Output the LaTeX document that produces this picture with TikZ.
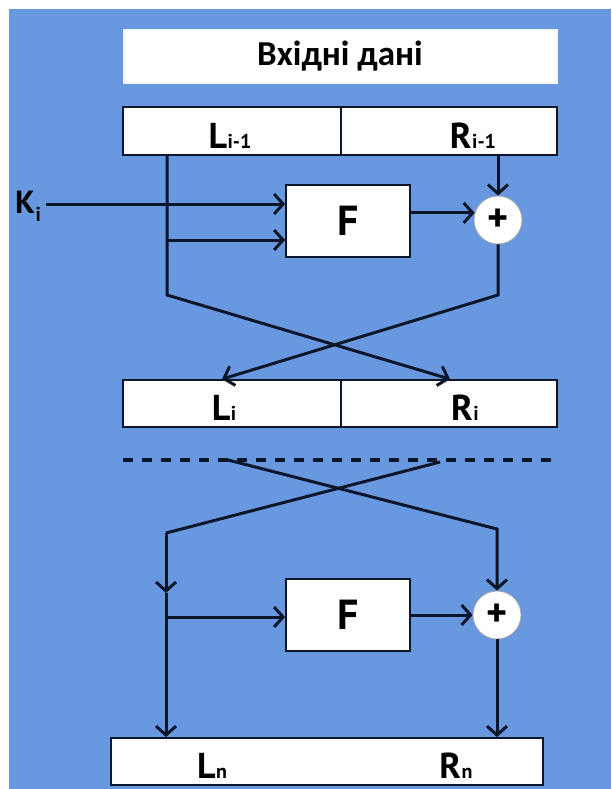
\documentclass[tikz,border=0pt]{standalone}
\usepackage{fontspec}
\setmainfont{PT Sans}
\newfontfamily\headfont{Carlito}
\usetikzlibrary{arrows.meta}
\definecolor{bg}{RGB}{104,153,224}
\definecolor{ink}{RGB}{12,22,42}
% subscript set next to a bold letter; optional argument lowers it
\newcommand\sbs[2][0pt]{\kern0.5pt\raisebox{-#1}{\fontsize{20}{20}\selectfont #2}}
\begin{document}
\begin{tikzpicture}[x=1pt,y=-1pt,
  wire/.style={draw=ink, line width=3pt},
  flow/.style={wire, -{Straight Barb[length=9pt,width=20pt]}},
  cell/.style={draw=ink, line width=1.8pt, fill=white, inner sep=0pt},
  hdr/.style={fill=white, draw=white!90!gray, line width=0.8pt, inner sep=0pt,
    font=\headfont\bfseries\fontsize{35}{35}\selectfont},
  func/.style={cell, minimum width=124pt, minimum height=72pt,
    font=\bfseries\fontsize{42}{42}\selectfont},
  xorop/.style={circle, fill=white, draw=gray!70, line width=0.8pt,
    minimum size=48pt, inner sep=0pt, font=\bfseries\fontsize{40}{40}\selectfont},
  lbl/.style={inner sep=0pt, anchor=base, font=\bfseries\fontsize{36}{36}\selectfont},
]
\useasboundingbox (0,0) rectangle (611,789);
\fill[white] (0,0) rectangle (611,789);
\fill[bg] (8.5,9) rectangle (611,789);

% input block
\node[hdr, minimum width=434pt, minimum height=54pt] (head) at (340,56) {Вхідні дані};

% round i input halves
\node[cell, minimum width=218pt, minimum height=48pt] (lprev) at (232,131) {};
\node[cell, minimum width=216pt, minimum height=48pt] (rprev) at (449,131) {};
\node[lbl] (tlprev) at (230,148) {L\sbs{i-1}};
\node[lbl] (trprev) at (473,148) {R\sbs{i-1}};

% round function and xor
\node[func] (F1) at (348,221) {F};
\node[xorop] (sum1) at (498,220) {+};
\node[lbl, anchor=base west, font=\bfseries\fontsize{32}{32}\selectfont] (ki) at (15,213) {K\sbs[8pt]{i}};

% round i output halves
\node[cell, minimum width=218pt, minimum height=47pt] (li) at (232,403.5) {};
\node[cell, minimum width=216pt, minimum height=47pt] (ri) at (449,403.5) {};
\node[lbl] (tli) at (224,420) {L\sbs{i}};
\node[lbl] (tri) at (465,420) {R\sbs{i}};

% last round
\node[func] (F2) at (348,615) {F};
\node[xorop] (sum2) at (497,615) {+};
\node[cell, minimum width=432pt, minimum height=47pt] (out) at (327,761.5) {};
\node[lbl] (tln) at (212,778) {L\sbs{n}};
\node[lbl] (trn) at (456,778) {R\sbs{n}};

% helper points
\coordinate (lt) at (167,155);
\coordinate (lb) at (167,295);
\coordinate (br1) at (167,240);
\coordinate (kin) at (46,204);
\coordinate (d1) at (123,460);
\coordinate (d2) at (557,460);
\coordinate (xa) at (228,460);
\coordinate (xb) at (440,462);
\coordinate (ra) at (497,529);
\coordinate (lc) at (166,533);
\coordinate (mid) at (166,593);
\coordinate (br2) at (166,617);

% upper round wiring
\draw[flow] (kin) -- (kin -| F1.west);
\draw[flow] (br1) -- (br1 -| F1.west);
\draw[flow] (sum1 |- rprev.south) -- (sum1.north);
\draw[flow] (F1.east |- sum1.163) -- (sum1.163);
\draw[flow] (lt) -- (lb) -- ([xshift=1pt]ri.north);
\draw[flow] (sum1.south) -- (sum1 |- lb) -- ([xshift=-10pt]li.north);

% rounds in between
\draw[ink, line width=4pt, dash pattern=on 10pt off 9pt] (d1) -- (d2);

% final round wiring
\draw[flow] (xa) -- (ra) -- (sum2.north);
\draw[wire] (xb) -- (lc);
\draw[flow] (lc) -- (mid);
\draw[flow] (mid) -- (mid |- out.north);
\draw[flow] (br2) -- (br2 -| F2.west);
\draw[flow] (F2.east) -- (sum2.west);
\draw[flow] (sum2.south) -- (sum2 |- out.north);
\end{tikzpicture}
\end{document}
